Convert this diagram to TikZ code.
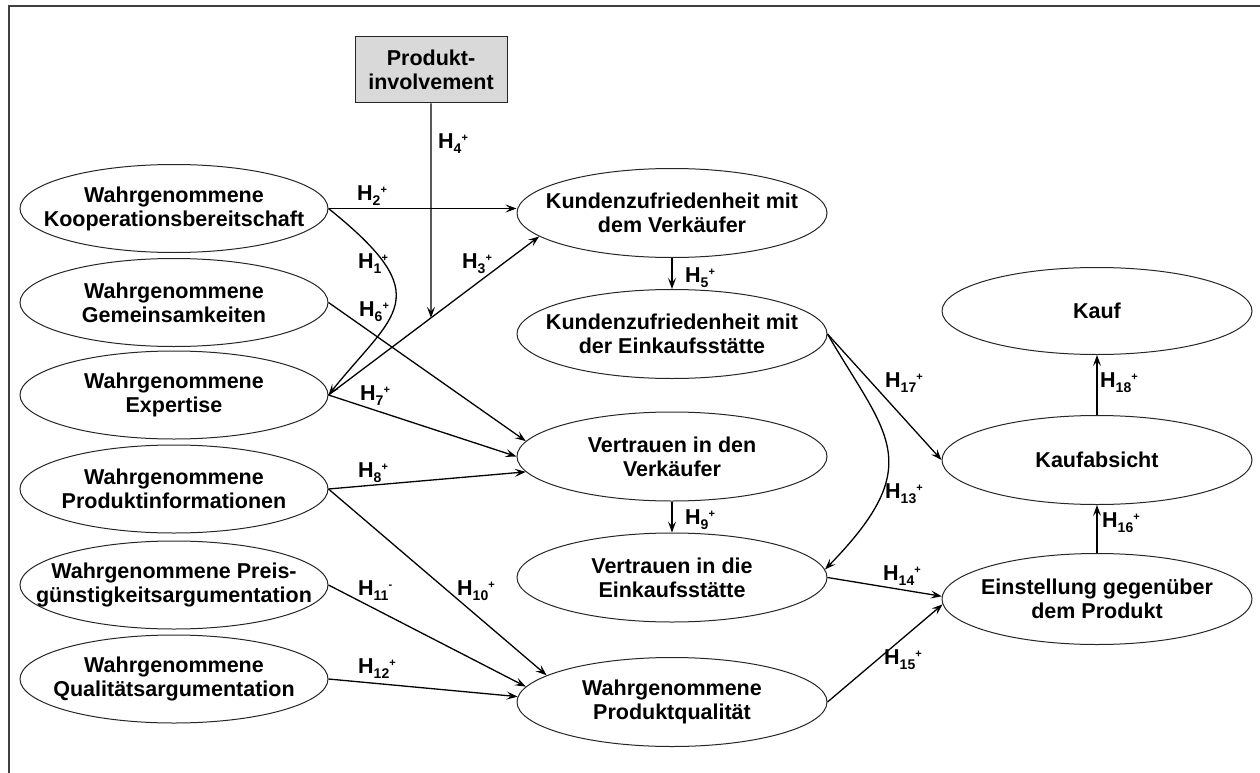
\documentclass[tikz,border=0pt]{standalone}
\usepackage{fontspec}
\setmainfont{Liberation Sans}
\usetikzlibrary{shapes.geometric,arrows.meta,intersections}
\newcommand{\hy}[2]{H\raisebox{-5.5pt}{\fontsize{14}{14}\selectfont #1}\raisebox{7pt}{\fontsize{11}{11}\selectfont #2}}
\begin{document}
\begin{tikzpicture}[x=1pt,y=-1pt,
  every node/.style={font=\fontsize{21.5}{24}\selectfont\bfseries},
  ell/.style={draw=black!85, line width=1pt, ellipse, inner sep=0pt, minimum width=310pt, minimum height=89pt},
  lell/.style={ell, minimum width=308pt, minimum height=88pt},
  txt/.style={align=center, inner sep=0pt},
  arr/.style={draw=black, line width=1.3pt, -{Stealth[length=11pt,width=8pt,inset=4.5pt]}},
  lab/.style={anchor=base west, inner sep=0pt},
  pbox/.style={draw=black!85, fill=black!15, line width=1pt, minimum width=152pt, minimum height=66pt, align=center, inner sep=0pt},
  frame/.style={draw=black!75, line width=2pt}]
\useasboundingbox (0,0) rectangle (1260,773);
\draw[frame] (8.5,773) -- (8.5,6.5) -- (1260,6.5);

% involvement box
\node[pbox] (inv) at (431,70) {Produkt-\\involvement};

% left column
\node[lell] (koop)  at (174,208.5) {};
\node[txt]  (koop-t) at (koop) {Wahrgenommene\\Kooperationsbereitschaft};
\node[lell] (gem)   at (174,302.5) {};
\node[txt]  (gem-t) at (gem) {Wahrgenommene\\Gemeinsamkeiten};
\node[lell] (exp)   at (174,395) {};
\node[txt]  (exp-t) at (exp) {Wahrgenommene\\Expertise};
\node[lell] (pinf)  at (174,489) {};
\node[txt]  (pinf-t) at (pinf) {Wahrgenommene\\Produktinformationen};
\node[lell] (preis) at (174,585) {};
\node[txt]  (preis-t) at (preis) {Wahrgenommene Preis-\\günstigkeitsargumentation};
\node[lell] (qual)  at (174,679) {};
\node[txt]  (qual-t) at (qual) {Wahrgenommene\\Qualitätsargumentation};

% middle column
\node[ell] (kzv) at (672,213) {};
\node[txt] (kzv-t) at (kzv) {Kundenzufriedenheit mit\\dem Verkäufer};
\node[ell] (kze) at (672,334) {};
\node[txt] (kze-t) at (kze) {Kundenzufriedenheit mit\\der Einkaufsstätte};
\node[ell] (vv) at (672,456.5) {};
\node[txt] (vv-t) at (vv) {Vertrauen in den\\Verkäufer};
\node[ell] (ve) at (672,577.5) {};
\node[txt] (ve-t) at (ve) {Vertrauen in die\\Einkaufsstätte};
\node[ell] (pq) at (672,702) {};
\node[txt] (pq-t) at (pq) {Wahrgenommene\\Produktqualität};

% right column
\node[ell, minimum height=87pt] (kauf) at (1097,311) {};
\node[txt] (kauf-t) at (kauf) {Kauf};
\node[ell] (kabs) at (1097,460) {};
\node[txt] (kabs-t) at (kabs) {Kaufabsicht};
\node[ell, minimum height=91pt] (einst) at (1097,599) {};
\node[txt] (einst-t) at (einst) {Einstellung gegenüber\\dem Produkt};

% connectors
\draw[arr] (koop.east) -- (koop.east -| kzv.west);
\draw[arr] (koop.east) .. controls (440,298) and (394,313) .. (exp.east);
\draw[arr, name path=h3] (exp.east) -- (kzv.190);
\path[name path=h4] (inv.south) -- ++(0,400);
\path[name intersections={of=h3 and h4, by=m}];
\draw[arr] (inv.south) -- (m);
\draw[arr] (gem.east) -- (vv.174);
\draw[arr] (exp.east) -- (vv.west);
\draw[arr] (pinf.east) -- (vv.186);
\draw[arr] (pinf.east) -- (pq.168);
\draw[arr] (preis.east) -- (pq.174);
\draw[arr] (qual.east) -- (pq.178);
\draw[arr] (kzv.south) -- (kze.north);
\draw[arr] (vv.south) -- (ve.north);
\draw[arr] (kze.east) .. controls (886,435) and (929,463) .. (ve.3);
\draw[arr] (kze.east) -- (kabs.west);
\draw[arr] (ve.east) -- (einst.179);
\draw[arr] (pq.east) -- (einst.182);
\draw[arr] (einst.north) -- (kabs.south);
\draw[arr] (kabs.north) -- (kauf.south);

% labels
\node[lab] (l4)  at (438,148) {\hy{4}{+}};
\node[lab] (l2)  at (357,200) {\hy{2}{+}};
\node[lab] (l1)  at (358,268) {\hy{1}{+}};
\node[lab] (l3)  at (462,268) {\hy{3}{+}};
\node[lab] (l6)  at (359,316) {\hy{6}{+}};
\node[lab] (l7)  at (360,400) {\hy{7}{+}};
\node[lab] (l8)  at (358,477) {\hy{8}{+}};
\node[lab] (l11) at (358,595) {\hy{11}{-}};
\node[lab] (l10) at (457,595) {\hy{10}{+}};
\node[lab] (l12) at (358,673) {\hy{12}{+}};
\node[lab] (l5)  at (685,282) {\hy{5}{+}};
\node[lab] (l9)  at (685,524) {\hy{9}{+}};
\node[lab] (l17) at (885,387) {\hy{17}{+}};
\node[lab] (l13) at (885,498) {\hy{13}{+}};
\node[lab] (l18) at (1100,387) {\hy{18}{+}};
\node[lab] (l14) at (883,580) {\hy{14}{+}};
\node[lab] (l15) at (884,664) {\hy{15}{+}};
\node[lab] (l16) at (1102,527) {\hy{16}{+}};
\end{tikzpicture}
\end{document}
